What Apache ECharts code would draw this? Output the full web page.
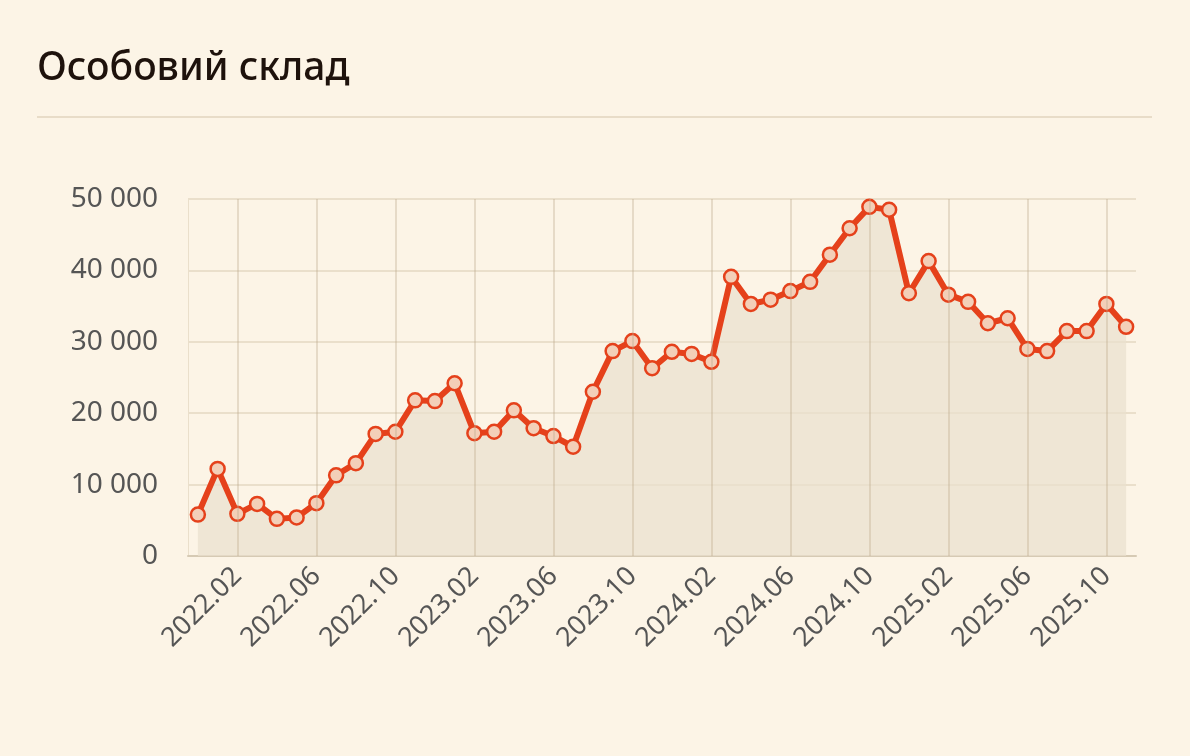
<!DOCTYPE html>
<html>
<head>
<meta charset="utf-8">
<script src="https://cdn.jsdelivr.net/npm/echarts@6/dist/echarts.min.js"></script>
<style>
  html, body { margin: 0; padding: 0; background: #fcf4e6; }
  #title { position: absolute; left: 37px; top: 38px; font: 500 39px "Noto Sans", sans-serif; color: #1e120c; }
  #sep { position: absolute; left: 37px; top: 116px; width: 1115px; height: 2px; background: #e8dcc8; }
  #chart { position: absolute; left: 0; top: 0; width: 1190px; height: 756px; }
</style>
</head>
<body>
<div id="chart"></div>
<div id="title">Особовий склад</div>
<div id="sep"></div>
<script>
// місяці 2021.12 - 2025.11
const months = [];
for (let i = 0; i < 48; i++) {
  const y = 2021 + Math.floor((11 + i) / 12);
  const m = (11 + i) % 12 + 1;
  months.push(y + '.' + (m < 10 ? '0' + m : m));
}
const personnel = [
  5800, 12200, 5900, 7300, 5200, 5400, 7400, 11300, 13000, 17100, 17400, 21800,
  21700, 24200, 17200, 17400, 20400, 17900, 16800, 15300, 23000, 28700, 30100, 26300,
  28600, 28300, 27200, 39100, 35300, 35900, 37100, 38400, 42200, 45900, 48900, 48500,
  36800, 41300, 36600, 35600, 32600, 33300, 29000, 28700, 31500, 31500, 35300, 32100
];
const gridMonths = months.filter((m, i) => i % 4 === 2);

const chart = echarts.init(document.getElementById('chart'));
chart.setOption({
  backgroundColor: 'transparent',
  animation: false,
  grid: { left: 188, right: 54, top: 199, bottom: 200 },
  xAxis: {
    type: 'category',
    data: months,
    boundaryGap: true,
    axisLine: { lineStyle: { color: '#d6cab4', width: 2 } },
    axisTick: { show: false },
    splitLine: { show: false },
    axisLabel: {
      interval: (i) => i % 4 === 2,
      rotate: 45,
      fontSize: 27,
      color: '#555',
      fontFamily: 'Noto Sans',
      margin: 16
    }
  },
  yAxis: {
    type: 'value',
    min: 0, max: 50000, interval: 10000,
    axisLine: { show: true, lineStyle: { color: '#eadfcb' } },
    axisTick: { show: false },
    splitLine: { lineStyle: { color: '#eadfcb', width: 2 } },
    axisLabel: {
      fontSize: 28, color: '#555', fontFamily: 'Noto Sans', margin: 30,
      formatter: (v) => v === 0 ? '0' : String(v).replace(/\B(?=(\d{3})+(?!\d))/g, ' ')
    }
  },
  series: [{
    type: 'line',
    data: personnel,
    symbol: 'circle',
    symbolSize: 14,
    showSymbol: true,
    showAllSymbol: true,
    lineStyle: { color: '#e5411b', width: 6 },
    itemStyle: { color: '#f3cfb8', borderColor: '#e5411b', borderWidth: 2.5 },
    areaStyle: { color: '#e9e0cd' },
    markLine: {
      silent: true,
      symbol: 'none',
      label: { show: false },
      lineStyle: { color: 'rgba(190,170,140,0.35)', type: 'solid', width: 2 },
      data: gridMonths.map(m => ({ xAxis: m }))
    }
  }]
});
</script>
</body>
</html>
